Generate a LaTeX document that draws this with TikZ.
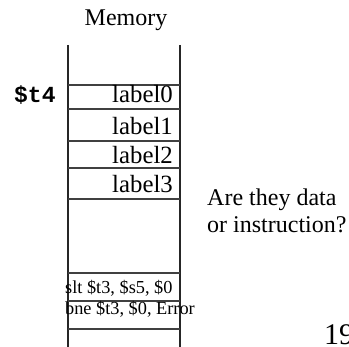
\documentclass[tikz,border=0pt]{standalone}
\usepackage{fontspec}
\setmainfont{Liberation Serif}
\newfontfamily\codefont{Liberation Mono}
\begin{document}
\begin{tikzpicture}[x=1pt,y=-1pt,
  wall/.style={line width=1.2pt,black!85},
  sep/.style={line width=1.1pt,black!75},
  big/.style={font=\fontsize{24}{27}\selectfont,inner sep=0pt},
  cell/.style={font=\fontsize{24.8}{28}\selectfont,inner sep=0pt},
  small/.style={font=\fontsize{18.3}{21}\selectfont,inner sep=0pt},
  reg/.style={font=\codefont\bfseries\fontsize{23}{26}\selectfont,inner sep=0pt}]
\useasboundingbox (0,0) rectangle (349,347);

% title
\node[big,anchor=base] (title) at (126,26) {Memory};

% column walls
\coordinate (tl) at (68,45);
\coordinate (bl) at (68,347);
\coordinate (tr) at (180,45);
\coordinate (br) at (180,347);
\draw[wall] (tl) -- (bl);
\draw[wall] (tr) -- (br);

% cell separators
\foreach \y/\n in {85/a,109/b,141/c,168/d,199/e,273/f,301/g,329/h}{
  \coordinate (s\n l) at (68,\y);
  \coordinate (s\n r) at (180,\y);
  \draw[sep] (s\n l) -- (s\n r);
}

% cell contents
\node[cell,anchor=base east] (l0) at (173,103) {label0};
\node[cell,anchor=base east] (l1) at (173,135) {label1};
\node[cell,anchor=base east] (l2) at (173,164) {label2};
\node[cell,anchor=base east] (l3) at (173,193) {label3};
\node[small,anchor=base west] (i1) at (65,294) {slt \$t3, \$s5, \$0};
\node[small,anchor=base west] (i2) at (65,315) {bne \$t3, \$0, Error};

% register pointer
\node[reg,anchor=base west] (t4) at (14,103) {\$t4};

% question
\node[big,anchor=base west] (q1) at (207,206) {Are they data};
\node[big,anchor=base west] (q2) at (207,233) {or instruction?};

% page number, running off the right edge
\node[font=\fontsize{30}{34}\selectfont,inner sep=0pt,anchor=base west] (pg) at (324,345) {19};
\end{tikzpicture}
\end{document}
